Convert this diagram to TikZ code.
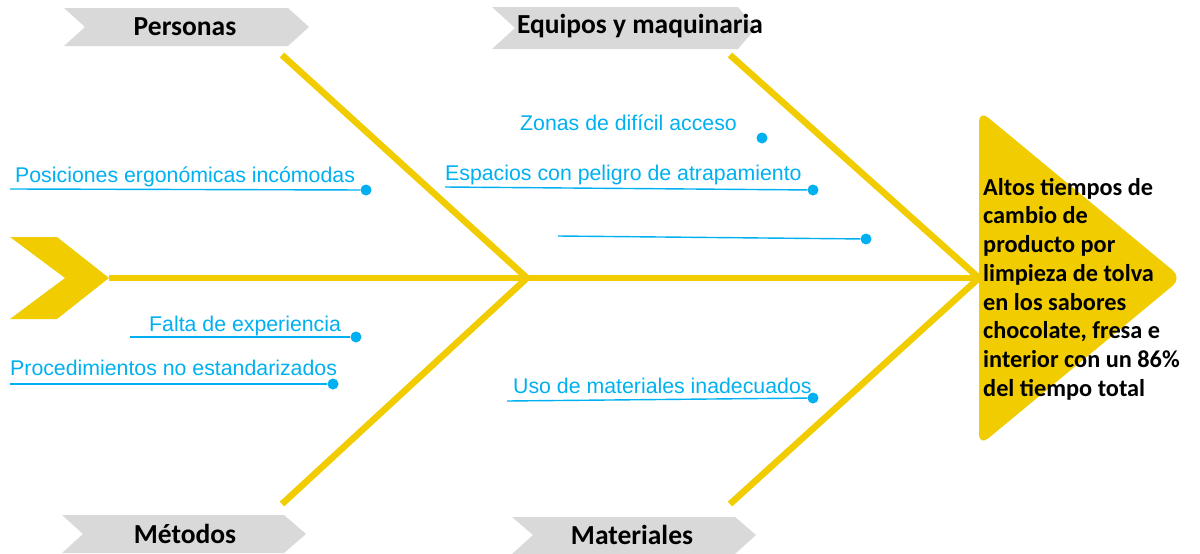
\documentclass[tikz,border=0pt]{standalone}
\usepackage{fontspec}
\setmainfont{Carlito}
\newfontfamily\arialfont{Liberation Sans}
\definecolor{fishyellow}{RGB}{240,204,0}
\definecolor{causeblue}{RGB}{0,176,240}
\definecolor{bannergrey}{RGB}{217,217,217}
\begin{document}
\begin{tikzpicture}[x=1pt,y=-1pt,
				bone/.style={draw=fishyellow,line width=6.5pt},
				banner/.style={fill=bannergrey},
				category/.style={font=\bfseries\fontsize{27.5}{30}\selectfont},
				cause/.style={text=causeblue,font=\arialfont\fontsize{21.3}{24}\selectfont,inner sep=0pt,anchor=base west},
				dot/.style={circle,fill=causeblue,inner sep=0pt,minimum size=11pt},
				tick/.style={draw=causeblue,line width=1.4pt}]
\useasboundingbox (0,0) rectangle (1200,554);
\coordinate (tail) at (109,278);
\coordinate (joint) at (527,278);
\coordinate (mouth) at (979,278);
\coordinate (pb) at (282,55);
\coordinate (mb) at (282,504);
\coordinate (eb) at (730,55);
\coordinate (tb) at (730,504);
\fill[banner] (64,8) -- (288,8) -- (309,27) -- (288,46) -- (64,46) -- (85,27) -- cycle;
\fill[banner] (492,7) -- (738,7) -- (756,28) -- (738,49) -- (492,49) -- (515,28) -- cycle;
\fill[banner] (62,515) -- (284,515) -- (306,534) -- (284,553) -- (62,553) -- (83,534) -- cycle;
\fill[banner] (512,517) -- (735,517) -- (756,535) -- (735,554) -- (512,554) -- (533,535) -- cycle;
\node[category] (personas) at (185,27) {Personas};
\node[category] (equipos) at (640,26) {Equipos y maquinaria};
\node[category] (metodos) at (185,534) {Métodos};
\node[category] (materiales) at (632,535) {Materiales};
\fill[fishyellow] (10,237) -- (57,237) -- (tail) -- (57,319) -- (10,319) -- (65,278) -- cycle;
\fill[fishyellow,rounded corners=12pt] (979,110) -- (1182,278) -- (979,446) -- cycle;
\draw[bone] (tail) -- (mouth);
\draw[bone] (pb) -- (joint) -- (mb);
\draw[bone] (eb) -- (mouth) -- (tb);
\node[anchor=north west,inner sep=0pt,align=left,font=\bfseries\fontsize{24.3}{28.7}\selectfont] (effect) at (983,178)
	{Altos tiempos de\\cambio de\\producto por\\limpieza de tolva\\en los sabores\\chocolate, fresa e\\interior con un 86\%\\del tiempo total};
\node[cause] (posiciones) at (15,182) {Posiciones ergonómicas incómodas};
\node[cause] (zonas) at (520,130) {Zonas de difícil acceso};
\node[cause] (espacios) at (445,180) {Espacios con peligro de atrapamiento};
\node[cause] (falta) at (149,331) {Falta de experiencia};
\node[cause] (procedimientos) at (10,375) {Procedimientos no estandarizados};
\node[cause] (uso) at (513,393) {Uso de materiales inadecuados};
\node[dot] (d1) at (366,190) {};
\node[dot] (d2) at (762,138) {};
\node[dot] (d3) at (813,190) {};
\node[dot] (d4) at (866,239) {};
\node[dot] (d5) at (356,337) {};
\node[dot] (d6) at (333,384) {};
\node[dot] (d7) at (813,398) {};
\coordinate (s1) at (10,189);
\coordinate (s3) at (445,187);
\coordinate (s4) at (558,236);
\coordinate (s5) at (130,337);
\coordinate (s6) at (10,384);
\coordinate (s7) at (507,401);
\draw[tick] (s1) -- (d1);
\draw[tick] (s3) -- (d3);
\draw[tick] (s4) -- (d4);
\draw[tick] (s5) -- (d5);
\draw[tick] (s6) -- (d6);
\draw[tick] (s7) -- (d7);
\end{tikzpicture}
\end{document}
